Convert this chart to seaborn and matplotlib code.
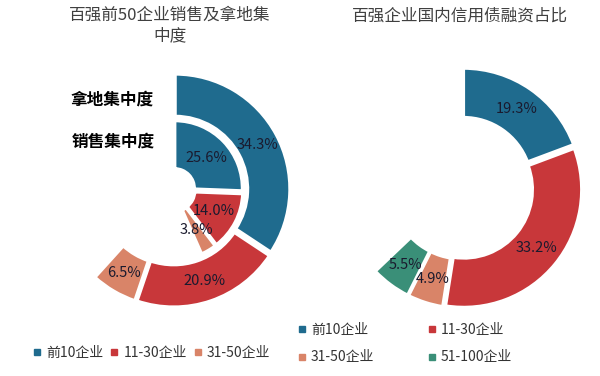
import numpy as np
import matplotlib
matplotlib.use('Agg')
import matplotlib.pyplot as plt
from matplotlib.lines import Line2D
import seaborn as sns

# data (percent)
groups3 = ['前10企业', '11-30企业', '31-50企业']
land_share = [34.3, 20.9, 6.5]      # 拿地集中度 (outer ring)
sales_share = [25.6, 14.0, 3.8]     # 销售集中度 (inner ring)
groups4 = ['前10企业', '11-30企业', '31-50企业', '51-100企业']
bond_share = [19.3, 33.2, 4.9, 5.5]

sns.set_theme(style='white')
plt.rcParams['font.family'] = ['Noto Sans CJK SC', 'DejaVu Sans']

palette = sns.color_palette(['#1f6b8e', '#c8373a', '#d98468', '#3a8f78'])
W, H = 600, 376

fig = plt.figure(figsize=(W / 100, H / 100), dpi=100)


def ring(ax, values, radius, width, colors):
    vals = list(values) + [100 - sum(values)]
    cols = list(colors) + ['none']
    wedges, _ = ax.pie(vals, colors=cols, radius=radius, startangle=90,
                       counterclock=False,
                       explode=[0.02] * len(values) + [0],
                       wedgeprops=dict(width=width, edgecolor='white', linewidth=2.5))
    wedges[-1].set_edgecolor('none')
    r_mid = radius - width / 2
    for w, v in zip(wedges[:-1], values):
        ang = np.deg2rad((w.theta1 + w.theta2) / 2)
        x, y = w.center
        ax.text(x + r_mid * np.cos(ang), y + r_mid * np.sin(ang), f'{v:.1f}%',
                ha='center', va='center', fontsize=10.5, color='#1a1a2e')


def donut_axes(cx, cy, r):
    half = 1.06 * r
    ax = fig.add_axes([(cx - half) / W, (H - cy - half) / H, 2 * half / W, 2 * half / H])
    return ax


# left chart
axl = donut_axes(173, 190, 115)
ring(axl, land_share, 1.0, 0.37, palette[:3])
ring(axl, sales_share, 0.59, 0.42, palette[:3])
axl.set_xlim(-1.06, 1.06)
axl.set_ylim(-1.06, 1.06)
axl.set_aspect('equal')
axl.axis('off')

# right chart
axr = donut_axes(462, 188, 118)
ring(axr, bond_share, 1.0, 0.42, palette[:4])
axr.set_xlim(-1.06, 1.06)
axr.set_ylim(-1.06, 1.06)
axr.set_aspect('equal')
axr.axis('off')

# titles and ring names
fig.text(170 / W, 1 - 7 / H, '百强前50企业销售及拿地集\n中度', ha='center', va='top',
         fontsize=12, color='#404040', linespacing=1.25)
fig.text(460 / W, 1 - 16 / H, '百强企业国内信用债融资占比', ha='center', va='center',
         fontsize=12, color='#404040')
fig.text(112 / W, 1 - 100 / H, '拿地集中度', ha='center', va='center',
         fontsize=12, fontweight='bold', color='black')
fig.text(113 / W, 1 - 142 / H, '销售集中度', ha='center', va='center',
         fontsize=12, fontweight='bold', color='black')

# legends
def handles(labels, colors):
    return [Line2D([], [], marker='s', ls='', color=c, markersize=4, label=l)
            for l, c in zip(labels, colors)]

fig.legend(handles=handles(groups3, palette[:3]), loc='center left',
           bbox_to_anchor=(33.5 / W, 1 - 353 / H), ncol=3, frameon=False,
           fontsize=10, handlelength=0.5, handletextpad=0.4, columnspacing=0.55,
           borderpad=0, borderaxespad=0, labelcolor='#333333')

h4 = handles(groups4, palette[:4])
fig.legend(handles=[h4[0], h4[2], h4[1], h4[3]], loc='center left',
           bbox_to_anchor=(298.5 / W, 1 - 343.5 / H), ncol=2, frameon=False,
           fontsize=10, handlelength=0.5, handletextpad=0.4, columnspacing=3.9,
           labelspacing=1.0, borderpad=0, borderaxespad=0, labelcolor='#333333')

fig.savefig('out.png', dpi=100, facecolor='white')
